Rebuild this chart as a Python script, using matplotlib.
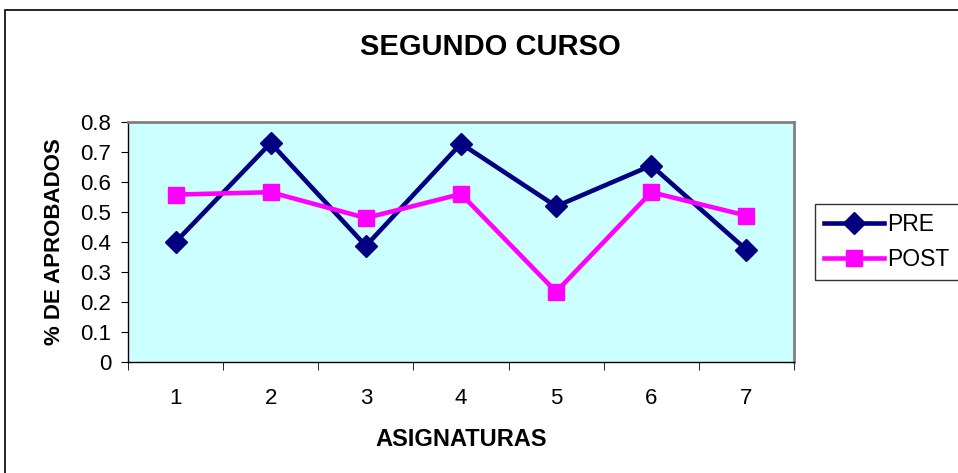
import matplotlib
matplotlib.use("Agg")
import matplotlib.pyplot as plt
from matplotlib.patches import Rectangle

# Data
asignaturas = [1, 2, 3, 4, 5, 6, 7]
pre = [0.40, 0.73, 0.387, 0.728, 0.519, 0.655, 0.374]
post = [0.558, 0.566, 0.48, 0.56, 0.234, 0.566, 0.488]
yticks = [0, 0.1, 0.2, 0.3, 0.4, 0.5, 0.6, 0.7, 0.8]

plt.rcParams["font.family"] = ["Liberation Sans", "DejaVu Sans"]

fig = plt.figure(figsize=(9.58, 4.73), dpi=100)
ax = fig.add_axes([128 / 958, 1 - 362 / 473, (794 - 128) / 958, (362 - 122) / 473])

# outer chart border
fig.patches.append(Rectangle((5 / 958, -0.01), 1.0, 1 - 10 / 473 + 0.01,
                             transform=fig.transFigure, fill=False,
                             edgecolor="black", linewidth=1.2))

ax.set_facecolor("#CCFFFF")
for s in ax.spines.values():
    s.set_color("#808080")
    s.set_linewidth(2)
ax.spines["left"].set_color("black")
ax.spines["left"].set_linewidth(1)
ax.spines["bottom"].set_color("black")
ax.spines["bottom"].set_linewidth(1)

ax.plot(asignaturas, pre, color="#000080", linewidth=3.3, marker="D",
        markersize=11, label="PRE")
ax.plot(asignaturas, post, color="#FF00FF", linewidth=3.3, marker="s",
        markersize=12, label="POST")

ax.set_xlim(0.5, 7.5)
ax.set_ylim(0, 0.8)
ax.set_yticks(yticks)
ax.set_yticklabels(["0"] + [f"{v:.1f}" for v in yticks[1:]])
ax.set_xticks(asignaturas)
ax.set_xticks([x + 0.5 for x in range(0, 8)], minor=True)
ax.tick_params(axis="x", which="major", length=0, pad=19, labelsize=16)
ax.tick_params(axis="x", which="minor", length=6, direction="out")
ax.tick_params(axis="y", length=5, direction="out", labelsize=16, pad=7)

ax.set_xlabel("ASIGNATURAS", fontsize=17, fontweight="bold")
ax.xaxis.set_label_coords(0.5, -0.275)
ax.set_ylabel("% DE APROBADOS", fontsize=16, fontweight="bold")
ax.yaxis.set_label_coords(-0.095, 0.5)
fig.text(490 / 958, 1 - 47 / 473, "SEGUNDO CURSO", ha="center", va="center",
         fontsize=21, fontweight="bold")

leg = ax.legend(loc="upper left", bbox_to_anchor=(815 / 958, 1 - 204 / 473),
                bbox_transform=fig.transFigure, fontsize=16.5, frameon=True,
                fancybox=False, edgecolor="black", borderpad=0.4,
                handlelength=2.6, handletextpad=0.15, labelspacing=0.5,
                borderaxespad=0)
leg.get_frame().set_linewidth(1)

fig.savefig("out.png", dpi=100)
